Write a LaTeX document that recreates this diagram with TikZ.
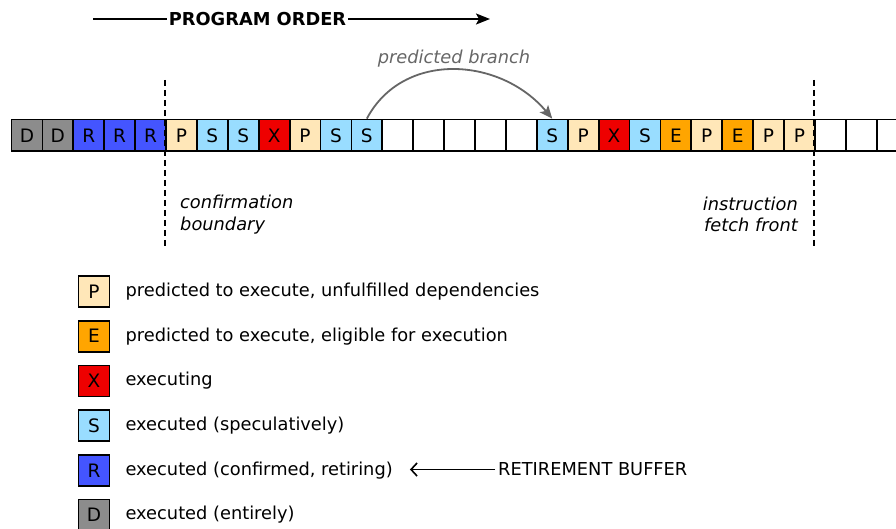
\documentclass[tikz,border=0pt]{standalone}
\usepackage{fontspec}
\setmainfont{DejaVu Sans}
\usetikzlibrary{arrows.meta,positioning}
\definecolor{colD}{HTML}{8C8C8C}
\definecolor{colR}{HTML}{4455FF}
\definecolor{colP}{HTML}{FFE7B8}
\definecolor{colS}{HTML}{99DDFF}
\definecolor{colX}{HTML}{EE0000}
\definecolor{colE}{HTML}{FFA500}
\definecolor{colW}{HTML}{FFFFFF}
\definecolor{branchgray}{HTML}{666666}

\begin{document}
\begin{tikzpicture}[x=1pt,y=-1pt,
 cell/.style={draw=black,line width=1.8pt,minimum width=30.9pt,minimum height=31.5pt,
 inner sep=0pt,font=\fontsize{18.5}{21}\selectfont},
 key/.style={cell,minimum width=31pt,minimum height=31pt},
 lbl/.style={anchor=west,inner sep=0pt,font=\fontsize{17.8}{21}\selectfont},
 note/.style={inner sep=0pt,font=\fontsize{17.8}{21.5}\selectfont\itshape},
 bound/.style={line width=1.8pt,dash pattern=on 6pt off 4pt},
 order/.style={line width=1.8pt,-{Stealth[length=14pt,width=11pt,inset=3pt]}},
 branch/.style={line width=1.8pt,draw=branchgray,-{Stealth[length=13pt,width=11pt,inset=3pt]}},
 ptr/.style={line width=1.6pt,-{Straight Barb[length=6pt,width=13pt]}}]
\useasboundingbox (0,0) rectangle (896,529);

\node[inner sep=2pt,font=\fontsize{17.8}{21}\selectfont\bfseries] (title) at (257.5,19) {PROGRAM ORDER};
\coordinate (orderstart) at (93,19);
\coordinate (orderend) at (490,19);
\draw[line width=1.8pt] (orderstart) -- (title.west);
\draw[order] (title.east) -- (orderend);

\foreach \f/\t [count=\i] in {D/D,D/D,R/R,R/R,R/R,P/P,S/S,S/S,X/X,P/P,S/S,S/S,W/,W/,W/,W/,W/,
 S/S,P/P,X/X,S/S,E/E,P/P,E/E,P/P,P/P,W/,W/,W/}
 \node[cell,fill=col\f] (c\i) at (-3.95+30.9*\i,135.3) {\t};

\draw[bound] (c6.west |- 0,80) -- (c6.west |- 0,248);
\draw[bound] (c27.west |- 0,80) -- (c27.west |- 0,248);

\draw[branch] (c12.north) .. controls +(36,-68) and +(-52,-62) .. (c18.north);
\node[note,text=branchgray] (brlabel) at (454,59) {predicted branch};

\node[note,anchor=west,align=left] (confirm) at (180,214.5) {confirmation\\boundary};
\node[note,anchor=east,align=right] (fetch) at (798,214.5) {instruction\\fetch front};

\node[key,fill=colP] (kP) at (94,291.5) {P};
\node[key,fill=colE,below=11.9pt of kP] (kE) {E};
\node[key,fill=colX,below=11.9pt of kE] (kX) {X};
\node[key,fill=colS,below=11.9pt of kX] (kS) {S};
\node[key,fill=colR,below=11.9pt of kS] (kR) {R};
\node[key,fill=colD,below=11.9pt of kR] (kD) {D};
\node[lbl,right=15pt of kP] (lP) {predicted to execute, unfulfilled dependencies};
\node[lbl,right=15pt of kE] (lE) {predicted to execute, eligible for execution};
\node[lbl,right=15pt of kX] (lX) {executing};
\node[lbl,right=15pt of kS] (lS) {executed (speculatively)};
\node[lbl,right=15pt of kR] (lR) {executed (confirmed, retiring)};
\node[lbl,right=15pt of kD] (lD) {executed (entirely)};

\node[lbl] (retire) at (498,469.5) {RETIREMENT BUFFER};
\draw[ptr,shorten <=3pt,shorten >=17pt] (retire.west) -- (retire.west -| lR.east);
\end{tikzpicture}
\end{document}
